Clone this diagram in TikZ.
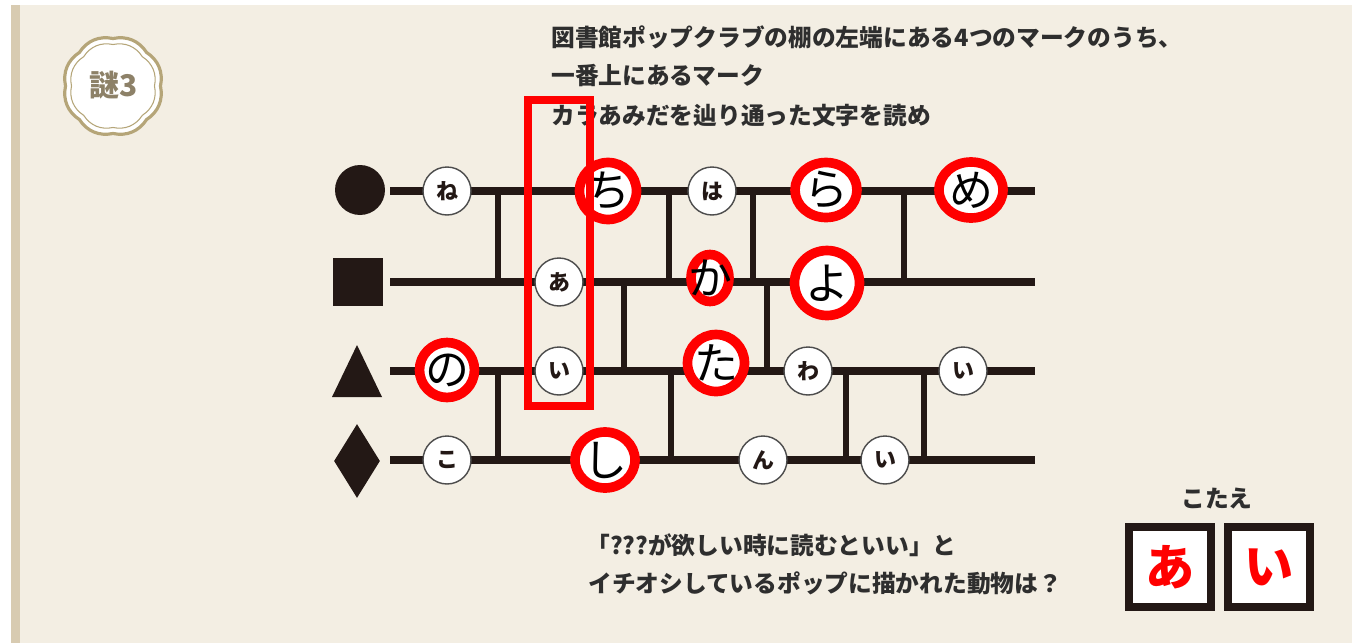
\documentclass[tikz,border=0pt]{standalone}
\usepackage{fontspec}
\setmainfont{Noto Sans CJK JP}
\usetikzlibrary{shapes.geometric}

\definecolor{paper}{HTML}{F3EEE3}
\definecolor{edge}{HTML}{D8CBB1}
\definecolor{ink}{HTML}{231815}
\definecolor{gold}{HTML}{B5A578}
\definecolor{goldtext}{HTML}{8D8168}
\definecolor{hitred}{HTML}{FF0000}

\tikzset{
  rail/.style={ink, line width=4pt},
  rung/.style={ink, line width=3.2pt},
  plain/.style={circle, draw=black!70, line width=0.8pt, fill=white, minimum size=0.96cm,
    inner sep=0pt, text=ink, font=\bfseries\fontsize{12.5}{12.5}\selectfont},
  hit/.style={circle, draw=hitred, line width=5.5pt, fill=white, minimum size=1.14cm, inner sep=0pt,
    label={[font=\fontsize{25}{25}\selectfont, text=black]center:#1}},
  note/.style={anchor=west, inner sep=0pt, text=black!82, font=\bfseries\fontsize{13.5}{13.5}\selectfont},
  ans/.style={draw=ink, line width=4.5pt, fill=white, minimum width=1.64cm, minimum height=1.6cm,
    inner sep=0pt, text=hitred, font=\bfseries\fontsize{28}{28}\selectfont},
}

\begin{document}
\begin{tikzpicture}[x=0.02cm, y=-0.02cm]
  \useasboundingbox (0,0) rectangle (1352,643);
  % paper
  \fill[paper] (0,0) rectangle (1352,643);
  \fill[white] (0,0) rectangle (11,643);
  \fill[edge] (11,5) rectangle (20,643);
  \fill[white] (0,0) rectangle (1352,5);

  % badge
  \begin{scope}[shift={(113,86)}, x=1cm, y=1cm]
    \draw[gold, line width=1.8pt, fill=white] (0:0.95) \foreach \a in {45,90,...,360} { to[bend right=34] (\a:0.95) } -- cycle;
    \draw[gold, line width=0.6pt] (0:0.83) \foreach \a in {45,90,...,360} { to[bend right=34] (\a:0.83) } -- cycle;
  \end{scope}
  \node[text=goldtext, font=\bfseries\fontsize{17}{17}\selectfont] (nazo) at (114,85) {謎3};

  % question
  \node[note] (q1) at (551,37) {図書館ポップクラブの棚の左端にある4つのマークのうち、};
  \node[note] (q2) at (551,76) {一番上にあるマーク};
  \node[note] (q3) at (551,116) {カラあみだを辿り通った文字を読め};

  % marks
  \node[circle, fill=ink, minimum size=1cm, inner sep=0pt] (mk1) at (360,190) {};
  \node[rectangle, fill=ink, minimum width=1cm, minimum height=0.96cm, inner sep=0pt] (mk2) at (358,282) {};
  \coordinate (tl) at (332,397);
  \coordinate (tt) at (357,345);
  \coordinate (tr) at (382,397);
  \fill[ink] (tl) -- (tt) -- (tr) -- cycle;
  \node[diamond, fill=ink, minimum width=0.92cm, minimum height=1.48cm, inner sep=0pt] (mk4) at (357,461) {};

  % rails
  \foreach \i/\y in {1/191, 2/282, 3/371, 4/460} {
    \coordinate (s\i) at (390,\y);
    \coordinate (e\i) at (1035,\y);
    \draw[rail] (s\i) -- (e\i);
  }
  % rungs
  \foreach \x/\a/\b in {498/1/2, 669/1/2, 753/1/2, 904/1/2,
                        624/2/3, 767/2/3,
                        498/3/4, 671/3/4, 846/3/4, 924/3/4}
    \draw[rung] (\x,0 |- s\a) -- (\x,0 |- s\b);

  % letters
  \foreach \x/\y/\t/\n in {447/191/ね/ne, 712/191/は/ha, 559/282/あ/a,
                           559/371/い/i1, 808/371/わ/wa, 963/371/い/i2,
                           447/460/こ/ko, 763/460/ん/n, 885/460/い/i3}
    \node[plain] (\n) at (\x,\y) {\t};

  \node[hit=ち] (chi) at (608,191) {};
  \node[hit=ら, ellipse, minimum width=1.24cm, minimum height=1.1cm] (ra) at (826,190) {};
  \node[hit=め, ellipse, minimum width=1.28cm, minimum height=1.12cm] (me) at (971,190) {};
  \node[hit=か, ellipse, minimum width=0.76cm, minimum height=0.94cm] (ka) at (710,278) {};
  \node[hit=よ, minimum size=1.3cm] (yo) at (827,283) {};
  \node[hit=の, minimum size=1.1cm] (no) at (447,370) {};
  \node[hit=た, minimum size=1.14cm] (ta) at (716,363) {};
  \node[hit=し, ellipse, minimum width=1.2cm, minimum height=1.12cm] (shi) at (605,460) {};

  % highlight
  \draw[hitred, line width=5pt] (528,100) rectangle (590,406);

  % hint
  \node[note] (r1) at (586,545) {「???が欲しい時に読むといい」と};
  \node[note] (r2) at (588,583) {イチオシしているポップに描かれた動物は？};

  % answer
  \node[note, anchor=center] (kotae) at (1217,499) {こたえ};
  \node[ans] (a1) at (1170,567) {あ};
  \node[ans] (a2) at (1269,567) {い};
\end{tikzpicture}
\end{document}
